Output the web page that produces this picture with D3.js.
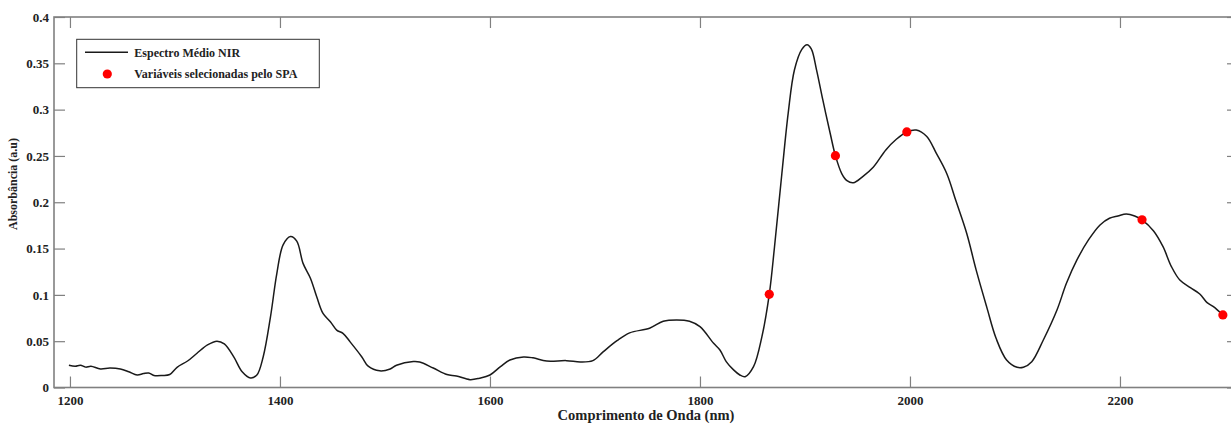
<!DOCTYPE html>
<html>
<head>
<meta charset="utf-8">
<script src="https://cdn.jsdelivr.net/npm/d3@7"></script>
<style>
  body { margin: 0; background: #fff; }
  svg { display: block; font-family: "Liberation Serif", "Times New Roman", serif; font-weight: bold; }
</style>
</head>
<body>
<div class="chart"></div>
<script>
// mean NIR spectrum
var wavelengths = [1199, 1205, 1210, 1215, 1220, 1229, 1238, 1248, 1256, 1264, 1270, 1275, 1280, 1288, 1295,
  1302, 1312, 1321, 1331, 1340, 1347, 1356, 1364, 1372, 1378, 1384, 1391, 1397, 1403, 1410, 1416,
  1422, 1429, 1435, 1441, 1448, 1454, 1460, 1467, 1478, 1484, 1495, 1505, 1511, 1527, 1533, 1546,
  1559, 1568, 1581, 1590, 1600, 1610, 1619, 1632, 1641, 1654, 1673, 1686, 1698, 1708, 1721, 1733,
  1752, 1765, 1778, 1790, 1800, 1813, 1819, 1825, 1832, 1838, 1843, 1851, 1859, 1866, 1871, 1878,
  1884, 1890, 1897, 1902, 1906, 1911, 1917, 1924, 1929, 1935, 1940, 1946, 1955, 1965, 1977, 1987,
  1997, 2006, 2016, 2025, 2035, 2044, 2054, 2063, 2073, 2082, 2092, 2102, 2108, 2116, 2127, 2140,
  2149, 2159, 2170, 2181, 2190, 2198, 2206, 2214, 2221, 2232, 2241, 2249, 2257, 2267, 2276, 2283,
  2289, 2298];
var absorbance = [0.024, 0.023, 0.024, 0.022, 0.023, 0.020, 0.021, 0.020, 0.017, 0.0135, 0.015, 0.0157, 0.013, 0.013, 0.014,
  0.0218, 0.0286, 0.037, 0.046, 0.050, 0.047, 0.033, 0.017, 0.0103, 0.0135, 0.033, 0.0765, 0.123, 0.154, 0.163, 0.158,
  0.134, 0.118, 0.098, 0.080, 0.071, 0.062, 0.0585, 0.049, 0.033, 0.023, 0.018, 0.020, 0.024, 0.028, 0.0275, 0.021,
  0.014, 0.0125, 0.0085, 0.010, 0.0135, 0.0225, 0.0297, 0.033, 0.032, 0.0286, 0.029, 0.0275, 0.029, 0.0387, 0.0505, 0.059,
  0.064, 0.0715, 0.073, 0.0715, 0.0657, 0.0477, 0.0405, 0.028, 0.019, 0.0135, 0.0117, 0.0225, 0.055, 0.1006, 0.152, 0.231,
  0.296, 0.343, 0.365, 0.370, 0.3655, 0.343, 0.3105, 0.2745, 0.2503, 0.231, 0.2233, 0.221, 0.2277, 0.2378, 0.2565, 0.268,
  0.2759, 0.278, 0.271, 0.253, 0.231, 0.2007, 0.1665, 0.127, 0.0873, 0.0531, 0.0297, 0.0218, 0.0219, 0.0279, 0.0513, 0.0837,
  0.1125, 0.1377, 0.1593, 0.1755, 0.1827, 0.1852, 0.1873, 0.1852, 0.181, 0.169, 0.152, 0.1305, 0.116, 0.1078, 0.101, 0.0916,
  0.0873, 0.0783];

// variables picked by SPA
var spaWavelengths = [1866, 1929, 1997, 2221, 2298];
var spaAbsorbance = [0.1006, 0.2503, 0.2759, 0.181, 0.0783];

var xTicks = [1200, 1400, 1600, 1800, 2000, 2200];
var yTicks = [0, 0.05, 0.1, 0.15, 0.2, 0.25, 0.3, 0.35, 0.4];
var xDomain = [1184.8, 2312.4];
var yDomain = [0, 0.4];

var legendLabels = ['Espectro Médio NIR', 'Variáveis selecionadas pelo SPA'];
var xTitle = 'Comprimento de Onda (nm)';
var yTitle = 'Absorbância (a.u)';

var width = 1231, height = 426;
var plotLeft = 54, plotRight = 1238, plotTop = 17, plotBottom = 387.5;
var axisColor = '#808080';

var svg = d3.select('.chart').append('svg')
            .attr('width', width)
            .attr('height', height);

var x = d3.scaleLinear().domain(xDomain).range([plotLeft, plotRight]);
var y = d3.scaleLinear().domain(yDomain).range([plotBottom, plotTop]);

var spectrum = wavelengths.map(function(w, i) { return [w, absorbance[i]]; });
var selected = spaWavelengths.map(function(w, i) { return [w, spaAbsorbance[i]]; });

function fmt(d) {
  return d === 0 ? '0' : String(+d.toFixed(2));
}

// axes, ticks point inward on all four sides
var gBottom = svg.append('g').attr('transform', 'translate(0,' + plotBottom + ')')
  .call(d3.axisBottom(x).tickValues(xTicks).tickFormat(d3.format('d'))
    .tickSizeInner(-11).tickSizeOuter(0).tickPadding(8.5));
var gTop = svg.append('g').attr('transform', 'translate(0,' + plotTop + ')')
  .call(d3.axisTop(x).tickValues(xTicks).tickFormat('')
    .tickSizeInner(-11).tickSizeOuter(0));
var gLeft = svg.append('g').attr('transform', 'translate(' + plotLeft + ',0)')
  .call(d3.axisLeft(y).tickValues(yTicks).tickFormat(fmt)
    .tickSizeInner(-11).tickSizeOuter(0).tickPadding(5));
var gRight = svg.append('g').attr('transform', 'translate(' + plotRight + ',0)')
  .call(d3.axisRight(y).tickValues(yTicks).tickFormat('')
    .tickSizeInner(-11).tickSizeOuter(0));

[gBottom, gTop, gLeft, gRight].forEach(function(g) {
  g.select('.domain').remove();
  g.selectAll('line').attr('stroke', axisColor).attr('stroke-width', 1.2);
  g.selectAll('text')
   .attr('fill', '#222')
   .style('font-family', '"Liberation Serif", "Times New Roman", serif')
   .style('font-weight', 'bold')
   .style('font-size', '13px');
});

svg.append('rect')
   .attr('x', plotLeft).attr('y', plotTop)
   .attr('width', plotRight - plotLeft).attr('height', plotBottom - plotTop)
   .attr('fill', 'none')
   .attr('stroke', axisColor)
   .attr('stroke-width', 1.6);

// spectrum line
var line = d3.line()
  .x(function(d) { return x(d[0]); })
  .y(function(d) { return y(d[1]); })
  .curve(d3.curveCatmullRom.alpha(0.5));

svg.append('path')
   .datum(spectrum)
   .attr('d', line)
   .attr('fill', 'none')
   .attr('stroke', '#1a1a1a')
   .attr('stroke-width', 1.5);

svg.selectAll('circle.spa')
   .data(selected)
   .enter()
   .append('circle')
   .attr('class', 'spa')
   .attr('cx', function(d) { return x(d[0]); })
   .attr('cy', function(d) { return y(d[1]); })
   .attr('r', 4.6)
   .attr('fill', '#ff0000');

// titles
svg.append('text')
   .attr('x', (plotLeft + plotRight) / 2)
   .attr('y', 419.5)
   .attr('text-anchor', 'middle')
   .style('font-size', '14.5px')
   .attr('fill', '#222')
   .text(xTitle);

svg.append('text')
   .attr('transform', 'translate(17,184) rotate(-90)')
   .attr('text-anchor', 'middle')
   .style('font-size', '12px')
   .attr('fill', '#222')
   .text(yTitle);

// legend
var legend = svg.append('g');
legend.append('rect')
      .attr('x', 76.7).attr('y', 39.3)
      .attr('width', 242.6).attr('height', 48.4)
      .attr('fill', '#fff')
      .attr('stroke', '#333')
      .attr('stroke-width', 1);
legend.append('line')
      .attr('x1', 85).attr('x2', 128)
      .attr('y1', 52.3).attr('y2', 52.3)
      .attr('stroke', '#1a1a1a')
      .attr('stroke-width', 1.5);
legend.append('circle')
      .attr('cx', 107.3).attr('cy', 74)
      .attr('r', 4.6)
      .attr('fill', '#ff0000');
legend.selectAll('text')
      .data(legendLabels)
      .enter()
      .append('text')
      .attr('x', 134.3)
      .attr('y', function(d, i) { return i === 0 ? 52.3 : 74; })
      .attr('dy', '0.35em')
      .style('font-size', '12px')
      .attr('fill', '#222')
      .text(function(d) { return d; });
</script>
</body>
</html>
